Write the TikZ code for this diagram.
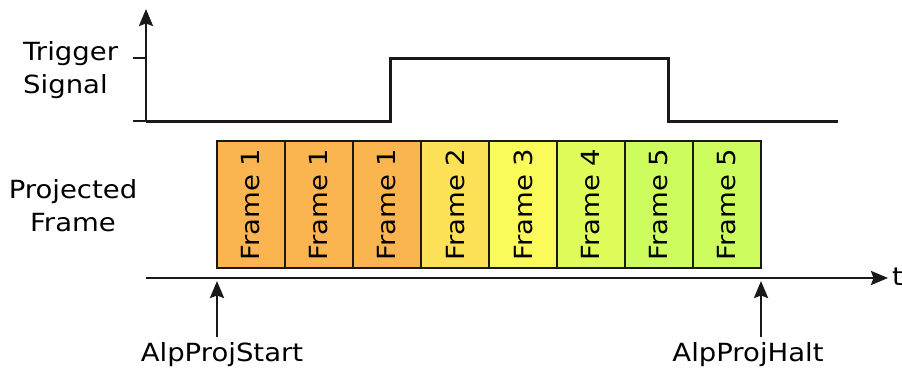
\documentclass[tikz,border=0pt]{standalone}
\usepackage{fontspec}
\setmainfont[FakeStretch=1.1]{DejaVu Sans}
\usetikzlibrary{positioning,arrows.meta,calc}

\definecolor{frameone}{RGB}{251,181,80}
\definecolor{frametwo}{RGB}{253,226,88}
\definecolor{framethree}{RGB}{250,250,90}
\definecolor{framefour}{RGB}{222,252,90}
\definecolor{framefive}{RGB}{205,252,95}
\definecolor{edge}{RGB}{25,25,25}

\tikzstyle{arrow} = [line width=2.5pt,->,>={Stealth[length=17pt,width=14pt,inset=2.5pt]},draw=edge]
\tikzstyle{axis} = [line width=2.5pt,draw=edge]
\tikzstyle{signal} = [line width=3pt,draw=edge]
\tikzstyle{txt} = [font=\fontsize{25}{33}\selectfont]
\tikzstyle{block} = [
        rectangle,
        txt,
        minimum width=68pt,
        minimum height=127pt,
        inner sep=0pt,
        outer sep=0pt,
        text centered,
        line width=2pt,
        draw=edge
    ]

\begin{document}
\begin{tikzpicture}[x=1pt,y=-1pt]
        \useasboundingbox (0,0) rectangle (902,372);

        \node (trigger) [%
            txt,%
            anchor=west,%
            inner sep=0pt,%
            align=left
            ] at (23,70) {Trigger\\Signal};

        \node (projected) [%
            txt,%
            inner sep=0pt,%
            align=center
            ] at (73,205.5) {Projected\\Frame};

        \draw [arrow] (146,122) -- (146,9);
        \draw [axis] (133,58) -- (146,58);
        \draw [axis] (133,121) -- (146,121);
        \draw [signal] (146,121) -- (390,121) -- (390,58)
            -- (668,58) -- (668,121) -- (838,121);

        \node (f1) [%
            block,%
            fill=frameone
            ] at (251,204.5) {\rotatebox{90}{Frame 1}};
        \node (f2) [%
            block,%
            fill=frameone,%
            right=0pt of f1
            ] {\rotatebox{90}{Frame 1}};
        \node (f3) [%
            block,%
            fill=frameone,%
            right=0pt of f2
            ] {\rotatebox{90}{Frame 1}};
        \node (f4) [%
            block,%
            fill=frametwo,%
            right=0pt of f3
            ] {\rotatebox{90}{Frame 2}};
        \node (f5) [%
            block,%
            fill=framethree,%
            right=0pt of f4
            ] {\rotatebox{90}{Frame 3}};
        \node (f6) [%
            block,%
            fill=framefour,%
            right=0pt of f5
            ] {\rotatebox{90}{Frame 4}};
        \node (f7) [%
            block,%
            fill=framefive,%
            right=0pt of f6
            ] {\rotatebox{90}{Frame 5}};
        \node (f8) [%
            block,%
            fill=framefive,%
            right=0pt of f7
            ] {\rotatebox{90}{Frame 5}};

        \coordinate (t0) at (146,278);
        \node (time) [%
            txt,%
            anchor=west,%
            inner sep=0pt
            ] at (892,277) {t};
        \draw [arrow] (t0) -- ([xshift=-4pt]time.west |- t0);

        \node (start) [%
            txt,%
            anchor=base,%
            inner sep=5pt
            ] at (222,361) {AlpProjStart};
        \node (halt) [%
            txt,%
            anchor=base,%
            inner sep=5pt
            ] at (748,361) {AlpProjHalt};

        \draw [arrow] (start.north -| f1.south west) -- ($(f1.south west)+(0,13)$);
        \draw [arrow] (halt.north -| f8.south east) -- ($(f8.south east)+(0,13)$);

    \end{tikzpicture}
\end{document}
